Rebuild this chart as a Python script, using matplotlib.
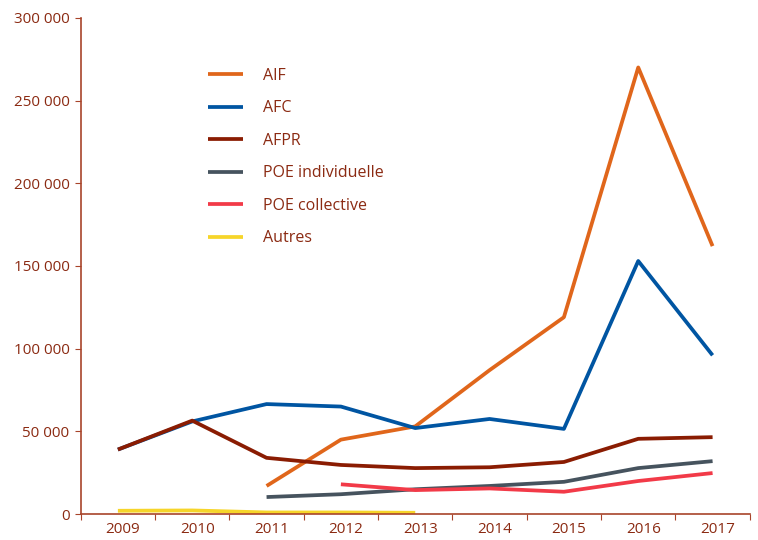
import matplotlib.pyplot as plt
from matplotlib.ticker import FuncFormatter
from matplotlib.transforms import ScaledTranslation

years = ['2009', '2010', '2011', '2012', '2013', '2014', '2015', '2016', '2017']

# values per year, None where the series does not exist
aif = [None, None, 17000, 45000, 53000, 87000, 119000, 270000, 162000]
afc = [39000, 56000, 66500, 65000, 52000, 57500, 51500, 153000, 96000]
afpr = [39000, 56500, 34000, 29700, 27800, 28300, 31500, 45500, 46500]
poe_ind = [None, None, 10300, 12000, 15000, 17000, 19500, 27800, 32000]
poe_coll = [None, None, None, 18000, 14500, 15500, 13500, 20000, 24800]
autres = [2000, 2200, 1000, 1000, 800, None, None, None, None]

series = [
    ('AIF', aif, '#e0661b'),
    ('AFC', afc, '#0055a2'),
    ('AFPR', afpr, '#8a1c02'),
    ('POE individuelle', poe_ind, '#46535e'),
    ('POE collective', poe_coll, '#f23a48'),
    ('Autres', autres, '#f6d52a'),
]

txt = '#8b2a12'
axcol = '#a8442a'

plt.rcParams['font.family'] = ['Open Sans', 'DejaVu Sans']

fig = plt.figure(figsize=(7.58, 5.40), dpi=100)
ax = fig.add_axes([0.1065, 0.048, 0.8826, 0.919])

for name, vals, col in series:
    xs = [i for i, v in enumerate(vals) if v is not None]
    ys = [v for v in vals if v is not None]
    ax.plot(xs, ys, color=col, lw=2.7, label=name, solid_capstyle='butt')

ax.set_xlim(-0.5, 8.5)
ax.set_ylim(0, 300000)
ax.set_yticks(range(0, 300001, 50000))
ax.yaxis.set_major_formatter(FuncFormatter(lambda v, p: '{:,}'.format(int(v)).replace(',', ' ')))

# ticks on category boundaries, labels at centres
ax.set_xticks([i - 0.5 for i in range(len(years) + 1)])
ax.set_xticklabels([])
ax.set_xticks(range(len(years)), minor=True)
ax.set_xticklabels(years, minor=True)
ax.tick_params(axis='x', which='major', length=4, color=axcol, direction='out')
ax.tick_params(axis='x', which='minor', length=0, pad=6, labelsize=11, labelcolor=txt)
ax.tick_params(axis='y', length=4, color=axcol, pad=4, labelsize=11, labelcolor=txt)

# year labels sit a little right of the category centre in the original
shift = ScaledTranslation(5 / 100, 0, fig.dpi_scale_trans)
for lab in ax.get_xticklabels(minor=True):
    lab.set_transform(lab.get_transform() + shift)

for s in ['top', 'right']:
    ax.spines[s].set_visible(False)
for s in ['left', 'bottom']:
    ax.spines[s].set_color(axcol)
    ax.spines[s].set_linewidth(1.2)

leg = ax.legend(loc='upper left', bbox_to_anchor=(0.19, 0.899), frameon=False,
                fontsize=11.5, handlelength=2.2, labelspacing=1.03, handletextpad=1.25,
                borderpad=0, borderaxespad=0)
for t in leg.get_texts():
    t.set_color(txt)

fig.savefig('out.png', dpi=100)
